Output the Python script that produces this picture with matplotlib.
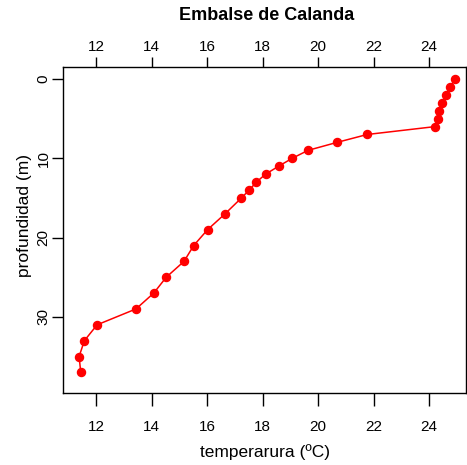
import matplotlib
matplotlib.use("Agg")
import matplotlib.pyplot as plt

plt.rcParams["font.family"] = ["Liberation Sans", "DejaVu Sans"]

# perfil de temperatura, Embalse de Calanda
profundidad = [0, 1, 2, 3, 4, 5, 6, 7, 8, 9, 10, 11, 12, 13, 14, 15,
               17, 19, 21, 23, 25, 27, 29, 31, 33, 35, 37]
temperatura = [24.95, 24.75, 24.62, 24.47, 24.37, 24.33, 24.23, 21.77, 20.68, 19.64,
               19.07, 18.58, 18.11, 17.78, 17.52, 17.24,
               16.65, 16.02, 15.52, 15.17, 14.53, 14.08, 13.44, 12.04, 11.58, 11.39, 11.45]
x_ticks = [12, 14, 16, 18, 20, 22, 24]
y_ticks = [0, 10, 20, 30]

W, H = 467, 465
fig = plt.figure(figsize=(W / 100, H / 100), dpi=100)
# plot box in pixels: left 63, right 466, top 67, bottom 393
ax = fig.add_axes([63 / W, (H - 393) / H, (466 - 63) / W, (393 - 67) / H])

ax.plot(temperatura, profundidad, color="red", lw=1.1, marker="o", ms=5.8,
        mec="red", mfc="red")

ax.set_xlim(10.81, 25.33)
ax.set_ylim(39.6, -1.51)

for s in ax.spines.values():
    s.set_linewidth(1.0)
    s.set_color("black")

ax.set_xticks(x_ticks)
ax.set_yticks(y_ticks)
ax.tick_params(axis="x", direction="out", length=9.5, width=1.0, pad=10, labelsize=11)
ax.tick_params(axis="y", direction="out", length=8, width=1.0, pad=1, labelsize=11)
for lab in ax.get_yticklabels():
    lab.set_rotation(90)
    lab.set_va("center")

top = ax.secondary_xaxis("top")
top.set_xticks(x_ticks)
top.tick_params(direction="out", length=7, width=1.0, pad=2.5, labelsize=11)
top.spines["top"].set_visible(False)

ax.set_xlabel("temperarura (ºC)", fontsize=12.5, labelpad=7)
ax.set_ylabel("profundidad (m)", fontsize=12.5)
ax.yaxis.set_label_coords(-0.078, 0.546)

fig.text(267 / W, 1 - 16 / H, "Embalse de Calanda", ha="center", va="center",
         fontsize=13, fontweight="bold")

fig.savefig("out.png", dpi=100)
